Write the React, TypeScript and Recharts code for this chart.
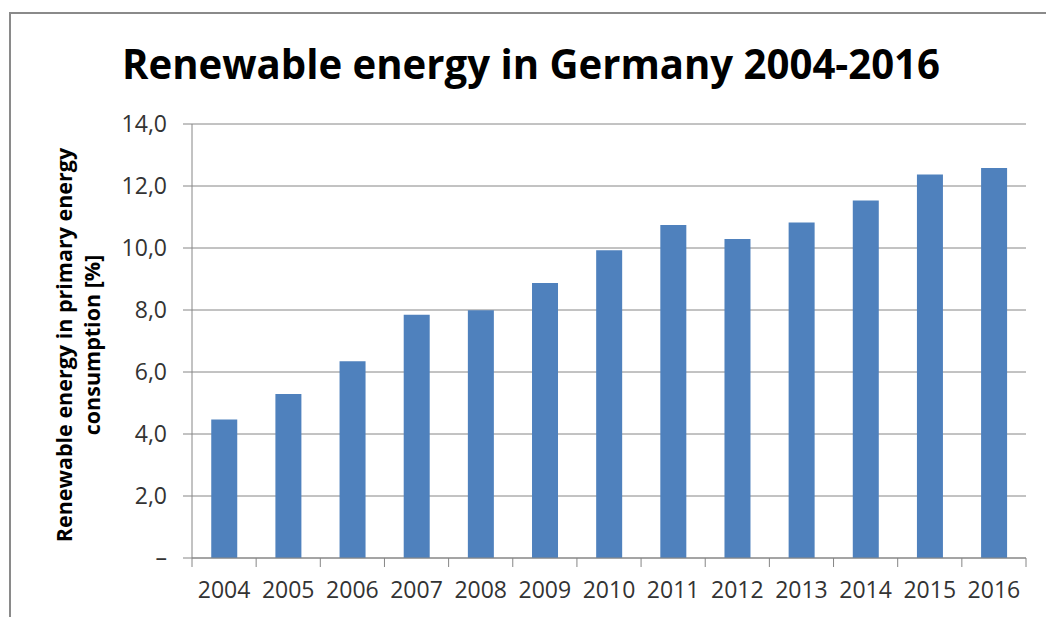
import { BarChart, Bar, XAxis, YAxis, CartesianGrid } from 'recharts';

const years = ['2004', '2005', '2006', '2007', '2008', '2009', '2010', '2011', '2012', '2013', '2014', '2015', '2016'];
const renewableShare = [4.47, 5.29, 6.35, 7.85, 7.99, 8.87, 9.93, 10.74, 10.29, 10.82, 11.53, 12.37, 12.58];
const yTicks = [0, 2, 4, 6, 8, 10, 12, 14];

const title = 'Renewable energy in Germany 2004-2016';
const yLabelLines = ['Renewable energy in primary energy', 'consumption  [%]'];

const data = years.map((year, i) => ({ year, share: renewableShare[i] }));

const WIDTH = 1046;
const HEIGHT = 617;
const MARGIN = { top: 124, right: 20, bottom: 9, left: 0 };
const Y_AXIS_WIDTH = 192;
const PLOT_WIDTH = WIDTH - MARGIN.left - MARGIN.right - Y_AXIS_WIDTH;
const STEP = PLOT_WIDTH / years.length;

const AXIS_COLOR = '#868686';
const TEXT_COLOR = '#333333';
const FONT = '"Open Sans", "Noto Sans", sans-serif';

// Excel style category ticks: marks sit between categories, not under them
const CategoryTick = (props: any) => {
  const { x, y, payload, index } = props;
  const left = x - STEP / 2;
  const right = x + STEP / 2;
  return (
    <g>
      <line x1={left} y1={y} x2={left} y2={y + 9} stroke={AXIS_COLOR} strokeWidth={1} />
      {index === years.length - 1 && (
        <line x1={right} y1={y} x2={right} y2={y + 9} stroke={AXIS_COLOR} strokeWidth={1} />
      )}
      <text x={x} y={y + 40} textAnchor="middle" fill={TEXT_COLOR} fontSize={23} fontFamily={FONT}>
        {payload.value}
      </text>
    </g>
  );
};

const formatShare = (v: number) => (v === 0 ? '–' : v.toFixed(1).replace('.', ','));

const App = () => {
  return (
    <div style={{ position: 'absolute', left: 0, top: 0, width: WIDTH, height: HEIGHT, background: '#fff' }}>
      <div
        style={{
          position: 'absolute',
          left: 9,
          top: 12,
          right: 0,
          bottom: 0,
          borderTop: '2px solid #8a8a8a',
          borderLeft: '2px solid #8a8a8a',
        }}
      />
      <BarChart
        width={WIDTH}
        height={HEIGHT}
        data={data}
        margin={MARGIN}
        barCategoryGap="30%"
        style={{ position: 'absolute', left: 0, top: 0 }}
      >
        <CartesianGrid vertical={false} stroke={AXIS_COLOR} strokeWidth={1} />
        <XAxis
          dataKey="year"
          height={50}
          tickSize={0}
          tickMargin={0}
          tickLine={false}
          axisLine={{ stroke: AXIS_COLOR }}
          tick={<CategoryTick />}
          interval={0}
        />
        <YAxis
          width={Y_AXIS_WIDTH}
          domain={[0, 14]}
          ticks={yTicks}
          tickFormatter={formatShare}
          tickSize={9}
          tickMargin={16}
          axisLine={{ stroke: AXIS_COLOR }}
          tickLine={{ stroke: AXIS_COLOR }}
          tick={{ fill: TEXT_COLOR, fontSize: 23, fontFamily: FONT }}
          interval={0}
        />
        <Bar dataKey="share" fill="#4f81bd" isAnimationActive={false} />
      </BarChart>
      <svg
        width={WIDTH}
        height={HEIGHT}
        style={{ position: 'absolute', left: 0, top: 0, pointerEvents: 'none' }}
      >
        <text
          x={531}
          y={79}
          textAnchor="middle"
          fontSize={41}
          fontWeight="bold"
          fontFamily={FONT}
          fill="#000"
          textLength={818}
          lengthAdjust="spacingAndGlyphs"
        >
          {title}
        </text>
        <g transform="translate(0, 345) rotate(-90)">
          {yLabelLines.map((line, i) => (
            <text
              key={line}
              x={0}
              y={72 + i * 28}
              textAnchor="middle"
              fontSize={21.5}
              fontWeight="bold"
              fontFamily={FONT}
              fill="#000"
            >
              {line}
            </text>
          ))}
        </g>
      </svg>
    </div>
  );
};

export default App;
